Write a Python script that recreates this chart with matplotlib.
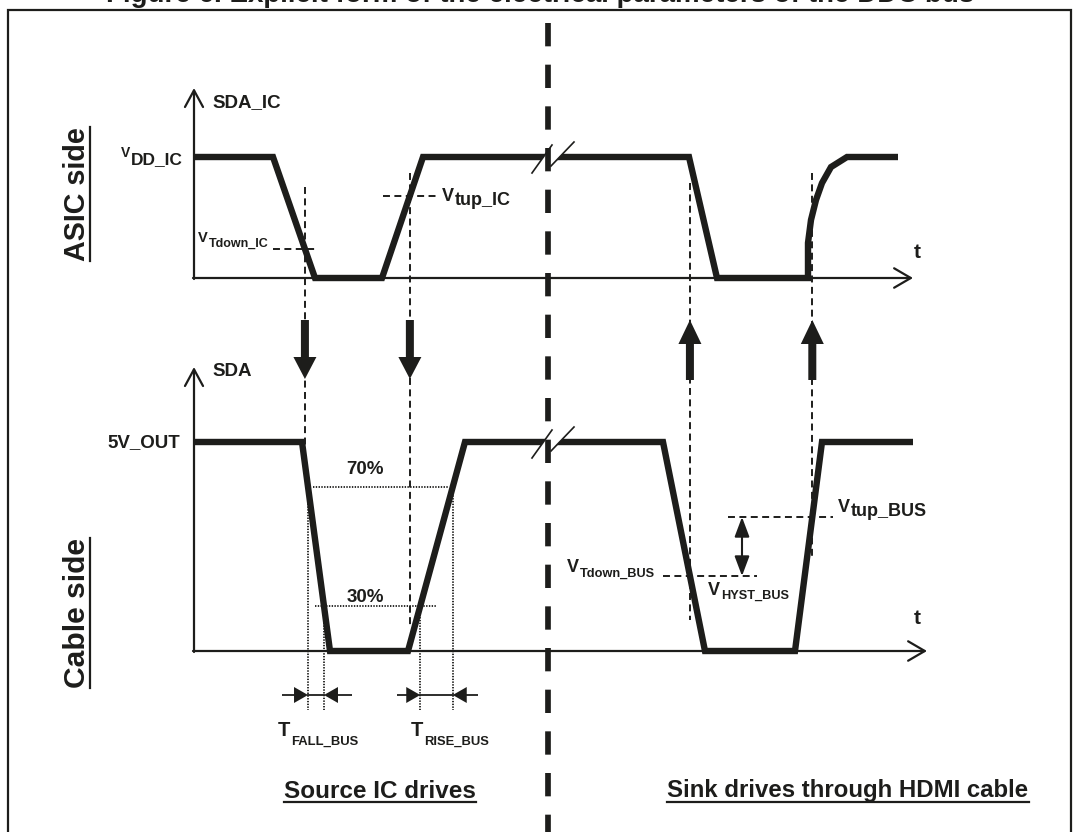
import matplotlib
matplotlib.use("Agg")
import matplotlib.pyplot as plt
from matplotlib.patches import FancyArrow, Polygon
from matplotlib import font_manager as fm

plt.rcParams["lines.scale_dashes"] = False
plt.rcParams["font.family"] = ["Liberation Sans", "DejaVu Sans"]
installed = {f.name for f in fm.fontManager.ttflist}
NARROW = "Liberation Sans Narrow" if "Liberation Sans Narrow" in installed else "Liberation Sans"

INK = "#1d1d1b"
DASH = (0, (5.0, 3.2))
DOT = (0, (1.0, 1.0))

# SDA_IC (ASIC side): time along the t axis and level (0 low, 1 high)
ic_t = [194, 273, 315, 382, 423, 689, 717, 808, 808, 811, 816, 822, 831, 847, 898]
ic_lvl = [1, 1, 0, 0, 1, 1, 0, 0, 0.29, 0.48, 0.645, 0.785, 0.917, 1, 1]
ic_vt_down = 0.24
ic_vt_up = 0.68

# SDA (cable side)
bus_t = [194, 302, 330, 408, 465, 663, 705, 795, 822, 913]
bus_lvl = [1, 1, 0, 0, 1, 1, 0, 0, 1, 1]
bus_70 = 0.785
bus_30 = 0.215
bus_vt_up = 0.641
bus_vt_down = 0.359

title = "Figure 6. Explicit form of the electrical parameters of the DDC bus"
side_labels = ["ASIC side", "Cable side"]
phase_labels = ["Source IC drives", "Sink drives through HDMI cable"]

# panel geometry (pixels): left, baseline, high level, arrow top, arrow right
TOP = dict(x0=194, base=278, high=157, ytop=88, xend=913)
BOT = dict(x0=194, base=651, high=442, ytop=367, xend=927)
BREAK_X = 548


def lvl_y(p, v):
    return p["base"] - v * (p["base"] - p["high"])


def edge_cross(t, lvl, k, v):
    return t[k] + (v - lvl[k]) / (lvl[k + 1] - lvl[k]) * (t[k + 1] - t[k])


fig = plt.figure(figsize=(10.74, 8.32), dpi=100)
ax = fig.add_axes([0, 0, 1, 1])
ax.set_xlim(0, 1074)
ax.set_ylim(832, 0)
ax.axis("off")

# frame and clipped caption
ax.plot([8, 8, 1071, 1071], [832, 10, 10, 832], color=INK, lw=1.6, solid_joinstyle="miter")
ax.text(540, 2, title, ha="center", va="baseline", fontsize=20, fontweight="bold", color=INK)


def axes_arrows(p):
    ax.annotate("", xy=(p["x0"], p["ytop"]), xytext=(p["x0"], p["base"] + 1),
                arrowprops=dict(arrowstyle="->,head_length=1.2,head_width=0.65", lw=1.6,
                                color=INK, shrinkA=0, shrinkB=0, mutation_scale=10))
    ax.annotate("", xy=(p["xend"], p["base"]), xytext=(p["x0"] - 1, p["base"]),
                arrowprops=dict(arrowstyle="->,head_length=1.2,head_width=0.7", lw=1.6,
                                color=INK, shrinkA=0, shrinkB=0, mutation_scale=10))


axes_arrows(TOP)
axes_arrows(BOT)

ax.plot(ic_t, [lvl_y(TOP, v) for v in ic_lvl], color=INK, lw=4.6,
        solid_joinstyle="miter", solid_capstyle="butt")
ax.plot(bus_t, [lvl_y(BOT, v) for v in bus_lvl], color=INK, lw=4.6,
        solid_joinstyle="miter", solid_capstyle="butt")


def slash_x(a, b, y):
    return a[0] + (y - a[1]) / (b[1] - a[1]) * (b[0] - a[0])


def time_break(y):
    s1 = ((BREAK_X - 16, y + 16), (BREAK_X + 4, y - 12))
    s2 = ((BREAK_X + 3, y + 9), (BREAK_X + 26, y - 15))
    poly = [(slash_x(*s1, y + 4), y + 4), (slash_x(*s1, y - 4), y - 4),
            (slash_x(*s2, y - 4), y - 4), (slash_x(*s2, y + 4), y + 4)]
    ax.add_patch(Polygon(poly, closed=True, facecolor="white", edgecolor="none", zorder=3))
    for a, b in (s1, s2):
        ax.plot([a[0], b[0]], [a[1], b[1]], color=INK, lw=1.2, zorder=4)


time_break(TOP["high"])
time_break(BOT["high"])

# crossing points used for the vertical guides
xa = edge_cross(ic_t, ic_lvl, 1, ic_vt_down)
xb = edge_cross(ic_t, ic_lvl, 3, ic_vt_up)
xc = edge_cross(bus_t, bus_lvl, 5, bus_vt_down)
xd = edge_cross(bus_t, bus_lvl, 7, bus_vt_up)

for x, y0, y1 in ((xa, 187, 470), (xb, 173, 628), (xc, 183, 620), (xd, 173, 560)):
    ax.plot([x, x], [y0, y1], color=INK, lw=1.4, linestyle=DASH, zorder=2)

# threshold dashes
ax.plot([273, 315], [lvl_y(TOP, ic_vt_down)] * 2, color=INK, lw=1.4, linestyle=DASH)
ax.plot([383, 437], [lvl_y(TOP, ic_vt_up)] * 2, color=INK, lw=1.4, linestyle=DASH)
ax.plot([728, 833], [lvl_y(BOT, bus_vt_up)] * 2, color=INK, lw=1.4, linestyle=DASH)
ax.plot([663, 757], [lvl_y(BOT, bus_vt_down)] * 2, color=INK, lw=1.4, linestyle=DASH)

# 70% / 30% dotted levels and timing guides
ax.plot([313, 448], [lvl_y(BOT, bus_70)] * 2, color=INK, lw=1.3, linestyle=DOT)
ax.plot([315, 436], [lvl_y(BOT, bus_30)] * 2, color=INK, lw=1.3, linestyle=DOT)
xf70 = edge_cross(bus_t, bus_lvl, 1, bus_70)
xf30 = edge_cross(bus_t, bus_lvl, 1, bus_30)
xr30 = edge_cross(bus_t, bus_lvl, 3, bus_30)
xr70 = edge_cross(bus_t, bus_lvl, 3, bus_70)
for x, v in ((xf70, bus_70), (xf30, bus_30), (xr30, bus_30), (xr70, bus_70)):
    ax.plot([x, x], [lvl_y(BOT, v), 710], color=INK, lw=1.3, linestyle=DOT)

YT = 695
for tail, tip in ((282, xf70), (352, xf30), (397, xr30), (478, xr70)):
    ax.add_patch(FancyArrow(tail, YT, tip - tail, 0, width=1.8, head_width=16, head_length=14,
                            length_includes_head=True, color=INK, lw=0))
ax.plot([xf70, xf30], [YT, YT], color=INK, lw=1.3)
ax.plot([xr30, xr70], [YT, YT], color=INK, lw=1.3)

# thick propagation arrows
for x in (xa, xb):
    ax.add_patch(FancyArrow(x, 320, 0, 59, width=8, head_width=23, head_length=22,
                            length_includes_head=True, color=INK, lw=0, zorder=5))
for x in (xc, xd):
    ax.add_patch(FancyArrow(x, 380, 0, -60, width=8, head_width=23, head_length=24,
                            length_includes_head=True, color=INK, lw=0, zorder=5))

# hysteresis double arrow
ax.annotate("", xy=(742, lvl_y(BOT, bus_vt_up)), xytext=(742, lvl_y(BOT, bus_vt_down)),
            arrowprops=dict(arrowstyle="<|-|>,head_length=1.2,head_width=0.45", lw=1.5,
                            color=INK, shrinkA=0, shrinkB=0, mutation_scale=10))

# divider between the two driving phases
ax.plot([BREAK_X, BREAK_X], [22.7, 832], color=INK, lw=4.1, linestyle=(0, (16.8, 13.2)),
        solid_capstyle="butt", dash_capstyle="butt", zorder=6)


def sublabel(x, y, main, sub, size, subsize, drop):
    t = ax.text(x, y, main, ha="left", va="baseline", fontsize=size, fontweight="bold", color=INK)
    ax.annotate(sub, xy=(1, 0), xycoords=t, xytext=(0.5, -drop), textcoords="offset points",
                ha="left", va="bottom", fontsize=subsize, fontweight="bold", color=INK)


bold = dict(fontweight="bold", color=INK)
ax.text(212, 103, "SDA_IC", ha="left", va="center", fontsize=13.5, **bold)
ax.text(212, 372, "SDA", ha="left", va="center", fontsize=13.5, **bold)
ax.text(180, 443, "5V_OUT", ha="right", va="center", fontsize=13.5, **bold)
ax.text(917, 253, "t", ha="center", va="center", fontsize=15, **bold)
ax.text(917, 618, "t", ha="center", va="center", fontsize=15, **bold)
ax.text(365, 469, "70%", ha="center", va="center", fontsize=13.5, **bold)
ax.text(365, 597, "30%", ha="center", va="center", fontsize=13.5, **bold)

sublabel(121, 157, "V", "DD_IC", 10, 12.5, 5)
sublabel(198, 242, "V", "Tdown_IC", 10.5, 9, 3.5)
sublabel(442, 201, "V", "tup_IC", 13, 13, 3)
sublabel(838, 512, "V", "tup_BUS", 13, 13, 3)
sublabel(567, 572, "V", "Tdown_BUS", 13, 9.2, 3)
sublabel(708, 595, "V", "HYST_BUS", 13, 9.2, 2)
sublabel(278, 736, "T", "FALL_BUS", 14.5, 9.4, 5.5)
sublabel(411, 736, "T", "RISE_BUS", 14.5, 9.4, 5.5)

# underlined headings, sized to the width they take in the reference
heads = [
    ax.text(77, 194, side_labels[0], rotation=90, ha="center", va="center", family=NARROW, **bold),
    ax.text(77, 613, side_labels[1], rotation=90, ha="center", va="center", family=NARROW, **bold),
    ax.text(380, 791, phase_labels[0], ha="center", va="center", family=NARROW, **bold),
    ax.text(848, 791, phase_labels[1], ha="center", va="center", family=NARROW, **bold),
]
spans = [134, 150, 191, 360]

renderer = fig.canvas.get_renderer()
for h, span in zip(heads, spans):
    h.set_fontsize(20)
    bb = h.get_window_extent(renderer)
    length = bb.height if h.get_rotation() == 90 else bb.width
    h.set_fontsize(20 * span / length)

fig.canvas.draw()
inv = ax.transData.inverted()
for h in heads:
    bb = h.get_window_extent(renderer).transformed(inv)
    x0, x1 = sorted((bb.x0, bb.x1))
    y0, y1 = sorted((bb.y0, bb.y1))
    if h.get_rotation() == 90:
        ax.plot([x1 - 1, x1 - 1], [y0, y1], color=INK, lw=1.6)
    else:
        ax.plot([x0, x1], [y1 - 1, y1 - 1], color=INK, lw=1.6)

fig.savefig("out.png", dpi=100)
